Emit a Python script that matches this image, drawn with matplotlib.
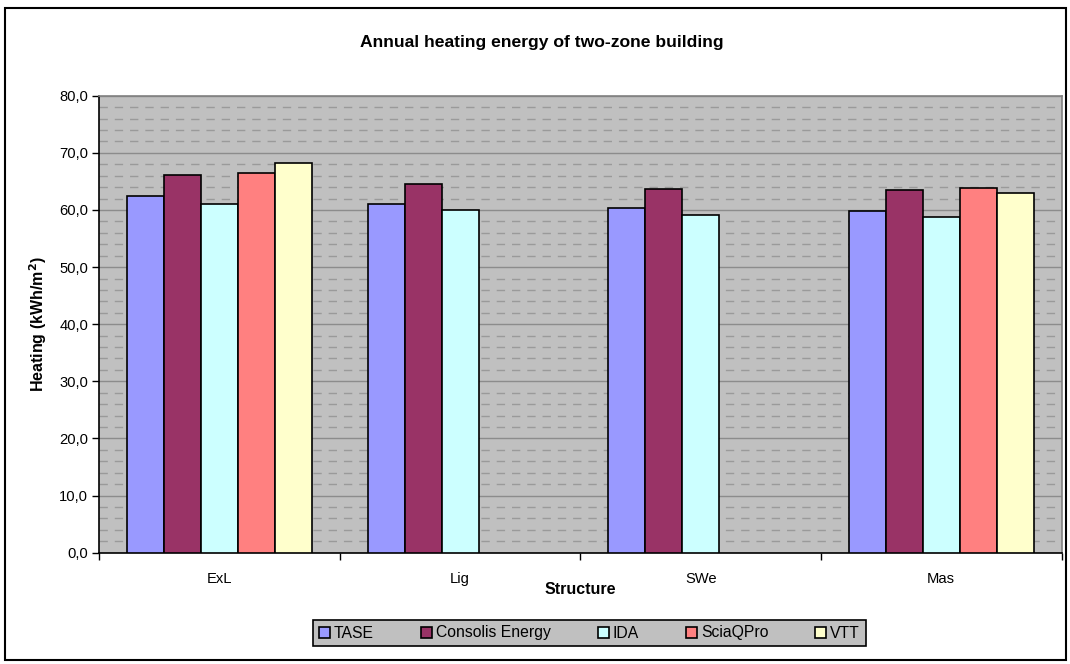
import numpy as np
import matplotlib
matplotlib.use("Agg")
import matplotlib.pyplot as plt
from matplotlib.patches import Rectangle
from matplotlib.ticker import MultipleLocator, FuncFormatter

plt.rcParams['font.family'] = ['Liberation Sans', 'DejaVu Sans']

categories = ["ExL", "Lig", "SWe", "Mas"]
series_names = ["TASE", "Consolis Energy", "IDA", "SciaQPro", "VTT"]
tase = [62.5, 61.1, 60.4, 59.9]
consolis = [66.1, 64.5, 63.6, 63.5]
ida = [61.1, 60.0, 59.1, 58.7]
sciaqpro = [66.5, np.nan, np.nan, 63.8]
vtt = [68.2, np.nan, np.nan, 62.9]
series_values = [tase, consolis, ida, sciaqpro, vtt]
colors = ["#9999FF", "#993366", "#CCFFFF", "#FF8080", "#FFFFCC"]

W, H = 1070, 664
fig = plt.figure(figsize=(W / 100, H / 100), dpi=100)

# outer border
fig.patches.append(Rectangle((5 / W, 1 - 660 / H), 1061 / W, 652 / H,
                             transform=fig.transFigure, fill=False,
                             edgecolor="black", linewidth=1.5))

ax = fig.add_axes([99.3 / W, 1 - 552.7 / H, (1061.5 - 99.3) / W, (552.7 - 95.7) / H])
ax.set_facecolor("#C0C0C0")

x = np.arange(len(categories))
bw = 0.1538
for i, (name, vals, c) in enumerate(zip(series_names, series_values, colors)):
    ax.bar(x + (i - 2) * bw, vals, width=bw, color=c, edgecolor="black",
           linewidth=1.2, label=name, zorder=3)

ax.set_xlim(-0.5, len(categories) - 0.5)
ax.set_ylim(0, 80)
ax.yaxis.set_major_locator(MultipleLocator(10))
ax.yaxis.set_minor_locator(MultipleLocator(2))
ax.yaxis.set_major_formatter(FuncFormatter(lambda v, p: f"{v:.1f}".replace(".", ",")))
ax.grid(axis="y", which="major", color="#8C8C8C", linewidth=1.0, zorder=1)
ax.grid(axis="y", which="minor", color="#9A9A9A", linewidth=1.0,
        linestyle=(0, (6, 5)), zorder=1)
ax.tick_params(axis="y", which="minor", length=0)
ax.tick_params(axis="y", which="major", length=5, direction="out", labelsize=10.6,
               pad=3, width=1)

ax.set_xticks(np.arange(len(categories) + 1) - 0.5)
ax.set_xticklabels([])
ax.set_xticks(x, minor=True)
ax.set_xticklabels(categories, minor=True)
ax.tick_params(axis="x", which="major", length=5, direction="out", width=1)
ax.tick_params(axis="x", which="minor", length=0, labelsize=10.6, pad=14)

for s in ["left", "bottom"]:
    ax.spines[s].set_color("black")
    ax.spines[s].set_linewidth(1.2)
for s in ["top", "right"]:
    ax.spines[s].set_color("#808080")
    ax.spines[s].set_linewidth(1.2)

fig.text(542 / W, 1 - 43 / H, "Annual heating energy of two-zone building",
         ha="center", va="center", fontsize=12.6, fontweight="bold")
fig.text(580 / W, 1 - 589 / H, "Structure", ha="center", va="center",
         fontsize=11.5, fontweight="bold")
fig.text(38 / W, 1 - 324 / H, "Heating (kWh/m$^\\mathbf{2}$)", ha="center", va="center",
         rotation=90, fontsize=11.5, fontweight="bold")

leg = ax.legend(loc="center", bbox_to_anchor=(589.5 / W, 1 - 633 / H),
                bbox_transform=fig.transFigure, ncol=5, fontsize=11.3,
                frameon=True, fancybox=False, handlelength=0.7, handleheight=0.7,
                handletextpad=0.25, columnspacing=3.0, borderpad=0.35,
                borderaxespad=0)
frame = leg.get_frame()
frame.set_facecolor("#C0C0C0")
frame.set_edgecolor("black")
frame.set_linewidth(1.2)
frame.set_alpha(1)

fig.savefig("out.png", dpi=100)
